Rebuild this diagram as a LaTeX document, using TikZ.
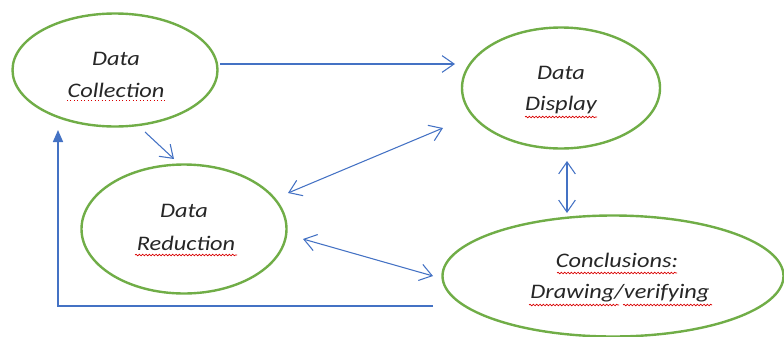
\documentclass[tikz,border=0pt]{standalone}
\usepackage{fontspec}
\newfontfamily\calfont{Carlito}[FakeStretch=1.18]
\usetikzlibrary{arrows.meta,decorations.pathmorphing,shapes.geometric}
\definecolor{egreen}{HTML}{70AD47}
\definecolor{ablue}{HTML}{4472C4}
\tikzset{
  barb/.tip={Straight Barb[length=9pt,width=12.5pt,line width=0.8pt]},
  ell/.style={draw=egreen,line width=1.8pt,ellipse,inner sep=0pt},
  lab/.style={font=\calfont\itshape\fontsize{15.5}{18}\selectfont,inner sep=0pt,anchor=base,text=black!85},
  conn/.style={draw=ablue,line width=0.8pt,-barb},
  dconn/.style={draw=ablue,line width=0.8pt,barb-barb},
  fb/.style={draw=ablue,line width=1.2pt,-{Triangle[length=9pt,width=7.5pt]}},
  squig/.style={draw=red!85!black,line width=0.5pt,decorate,decoration={snake,segment length=2.5pt,amplitude=0.6pt}},
  dots/.style={draw=red!85!black,line width=0.6pt,dotted}
}
\begin{document}
\begin{tikzpicture}[x=0.75pt,y=-0.75pt]
\useasboundingbox (0,0) rectangle (784,336);
% ellipses
\node[ell,minimum width=153.75pt,minimum height=84.75pt] (dc) at (115,70) {};
\node[ell,minimum width=148.5pt,minimum height=90.75pt] (dd) at (561,88) {};
\node[ell,minimum width=153.75pt,minimum height=96.75pt] (dr) at (184,229) {};
\node[ell,minimum width=255.75pt,minimum height=90.75pt] (cc) at (613,276) {};
% texts
\node[lab] (dc1) at (116,65) {Data};
\node[lab] (dc2) at (116,97) {Collection};
\node[lab] (dd1) at (561,79) {Data};
\node[lab] (dd2) at (561,110) {Display};
\node[lab] (dr1) at (184,217) {Data};
\node[lab] (dr2) at (186,250) {Reduction};
\node[lab] (cc1) at (617,267) {Conclusions:};
\node[lab] (cc2) at (620,298) {Drawing/verifying};
% spell-check marks
\draw[dots] (67,100) -- (165,100);
\draw[squig] (525,117) -- (597,117);
\draw[squig] (135,255) -- (237,255);
\draw[squig] (557,273) -- (677,273);
\draw[squig] (529,305) -- (619,305);
\draw[squig] (623,305) -- (712,305);
% connector end points
\coordinate (a1s) at (220,64);
\coordinate (a1e) at (455,64);
\coordinate (a2s) at (145,132);
\coordinate (a2e) at (174,159);
\coordinate (a3s) at (288,193);
\coordinate (a3e) at (443,128);
\coordinate (a4s) at (303,239);
\coordinate (a4e) at (433,276);
\coordinate (a5s) at (567,161);
\coordinate (a5e) at (567,213);
\coordinate (fbs) at (433,306);
\coordinate (fbe) at (58,130);
% connectors
\draw[conn] (a1s) -- (a1e);
\draw[conn] (a2s) -- (a2e);
\draw[dconn] (a3s) -- (a3e);
\draw[dconn] (a4s) -- (a4e);
\draw[dconn] (a5s) -- (a5e);
\draw[fb] (fbs) -| (fbe);
\end{tikzpicture}
\end{document}
